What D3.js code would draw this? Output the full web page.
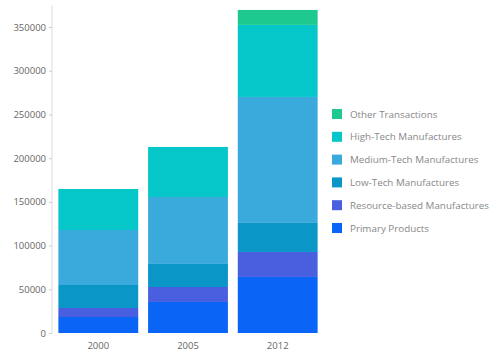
<!DOCTYPE html>
<html><head><meta charset="utf-8">
<script src="https://cdn.jsdelivr.net/npm/d3@7"></script>
<style>body{margin:0;background:#fff;font-family:"Open Sans",sans-serif;}</style>
</head><body><svg id="c" width="504" height="357"></svg>
<script>
const years = ["2000", "2005", "2012"];
const seriesNames = ["Primary Products", "Resource-based Manufactures", "Low-Tech Manufactures", "Medium-Tech Manufactures", "High-Tech Manufactures", "Other Transactions"];
const primaryProducts = [18300, 35500, 64100];
const resourceBased = [10300, 17100, 28600];
const lowTech = [26300, 26400, 33200];
const mediumTech = [62900, 76600, 144100];
const highTech = [46900, 57200, 82400];
const otherTransactions = [0, 0, 17100];
const yTicks = [0, 50000, 100000, 150000, 200000, 250000, 300000, 350000];
const colors = ["#0a64f5", "#4a5ee0", "#0b96c8", "#3aa9dc", "#05c7c9", "#1ec98f"];

const values = [primaryProducts, resourceBased, lowTech, mediumTech, highTech, otherTransactions];
const rows = years.map((y, i) => {
  const r = {year: y};
  seriesNames.forEach((s, k) => r[s] = values[k][i]);
  return r;
});
const stack = d3.stack().keys(seriesNames)(rows);

const svg = d3.select("#c");
const x = d3.scaleBand().domain(years).range([53, 323]).paddingInner(0.11).paddingOuter(0.06);
const y = d3.scaleLinear().domain([0, 350000]).range([333, 27]);

// y axis
const ya = svg.append("g").attr("transform", "translate(52,0)")
  .call(d3.axisLeft(y).tickValues(yTicks).tickSize(3).tickFormat(d3.format("d")));
ya.select(".domain").attr("stroke", "#ddd");
ya.selectAll(".tick line").attr("stroke", "#ccc");
ya.selectAll("text").attr("fill", "#666").style("font-size", "9.5px").style("font-family", "Open Sans");
ya.select(".domain").attr("d", "M0,333V5");

// bars
svg.append("g").selectAll("g").data(stack).join("g")
  .attr("fill", (d, i) => colors[i])
  .selectAll("rect").data(d => d).join("rect")
  .attr("x", d => x(d.data.year))
  .attr("width", x.bandwidth())
  .attr("y", d => y(d[1]))
  .attr("height", d => Math.max(0, y(d[0]) - y(d[1])));

// x axis
const xa = svg.append("g").attr("transform", "translate(0,333)")
  .call(d3.axisBottom(x).tickSize(0).tickPadding(9));
xa.select(".domain").remove();
xa.selectAll("text").attr("fill", "#666").style("font-size", "9.5px").style("font-family", "Open Sans");

// legend
const legendOrder = seriesNames.map((s, i) => ({name: s, color: colors[i]})).reverse();
const lg = svg.append("g").selectAll("g").data(legendOrder).join("g")
  .attr("transform", (d, i) => `translate(332,${109 + i * 22.8})`);
lg.append("rect").attr("width", 10).attr("height", 10).attr("fill", d => d.color);
lg.append("text").attr("x", 18).attr("y", 8.5).text(d => d.name)
  .attr("fill", "#888").style("font-size", "9.8px").style("font-family", "Open Sans");
</script></body></html>
